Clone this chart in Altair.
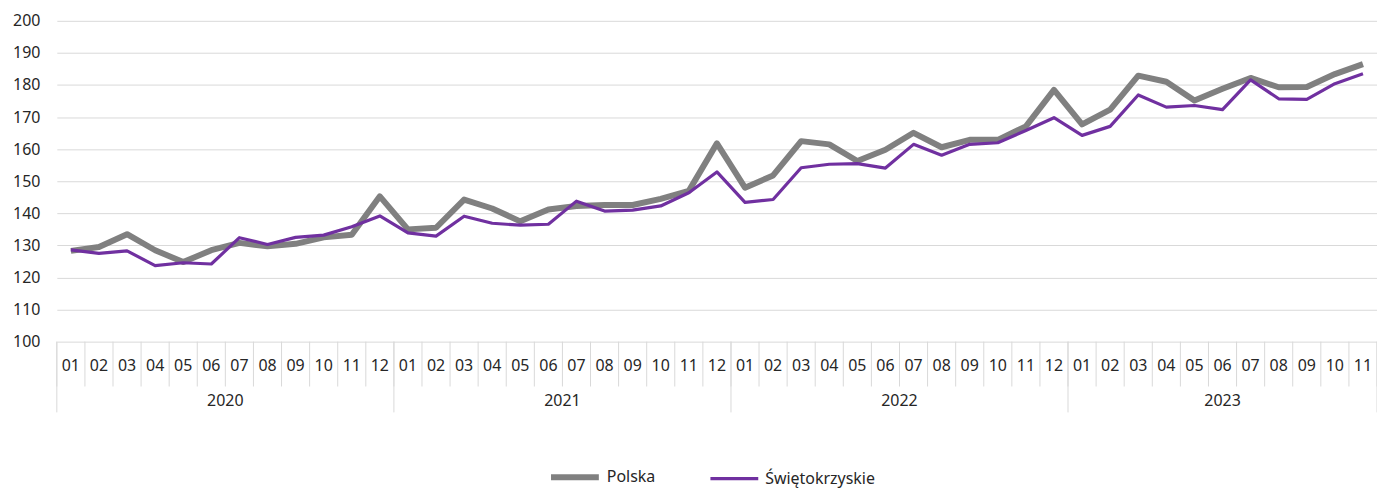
import altair as alt
import pandas as pd

years = ["2020", "2021", "2022", "2023"]
months_per_year = [12, 12, 12, 11]
month_labels = ["01", "02", "03", "04", "05", "06", "07", "08", "09", "10", "11", "12"]

polska = [
    128.3, 129.5, 133.5, 128.5, 124.8, 128.5, 130.8, 129.7, 130.5, 132.5, 133.3, 145.3,
    135.0, 135.5, 144.3, 141.5, 137.5, 141.2, 142.3, 142.6, 142.6, 144.5, 147.0, 161.8,
    148.0, 151.8, 162.5, 161.5, 156.3, 159.8, 165.1, 160.6, 162.9, 162.9, 167.1, 178.5,
    167.7, 172.3, 182.9, 181.0, 175.2, 178.8, 182.2, 179.3, 179.4, 183.4, 186.5,
]
swietokrzyskie = [
    128.6, 127.5, 128.3, 123.7, 124.6, 124.2, 132.4, 130.3, 132.5, 133.2, 135.8, 139.2,
    133.9, 132.9, 139.1, 136.9, 136.3, 136.6, 143.8, 140.7, 141.0, 142.3, 146.4, 152.9,
    143.4, 144.3, 154.2, 155.3, 155.5, 154.1, 161.5, 158.1, 161.5, 162.0, 165.8, 169.8,
    164.3, 167.1, 176.9, 173.1, 173.6, 172.3, 181.6, 175.7, 175.5, 180.4, 183.5,
]
series_names = ["Polska", "Świętokrzyskie"]
series_colors = ["#808080", "#7030A0"]
series_widths = [6, 3.2]

# month table
rows = []
i = 0
for y, n in zip(years, months_per_year):
    for m in range(n):
        rows.append({"pos": i + 0.5, "month": month_labels[m], "year": y})
        i += 1
months_df = pd.DataFrame(rows)
n_total = len(months_df)

line_rows = []
for name, vals in zip(series_names, [polska, swietokrzyskie]):
    for k, v in enumerate(vals):
        line_rows.append({"pos": k + 0.5, "value": v, "series": name,
                          "order": series_names.index(name)})
line_df = pd.DataFrame(line_rows)

# separators
month_sep = pd.DataFrame({"pos": list(range(n_total + 1))})
year_bounds = [0]
for n in months_per_year:
    year_bounds.append(year_bounds[-1] + n)
year_sep = pd.DataFrame({"pos": year_bounds})
year_centers = pd.DataFrame({
    "year": years,
    "pos": [(year_bounds[k] + year_bounds[k + 1]) / 2 for k in range(len(years))],
})

W, H = 1325, 322
FONT = "Noto Sans"
TXT = "#262626"
GRID = "#d9d9d9"

xscale = alt.Scale(domain=[0, n_total], nice=False, zero=False)
yscale = alt.Scale(domain=[100, 200], nice=False, zero=False)

leg = dict(title=None, orient="none", legendX=493, legendY=431,
           direction="horizontal", symbolType="stroke", symbolSize=2304,
           labelFontSize=16, labelFont=FONT, labelColor=TXT, labelOffset=5,
           columnPadding=48)

lines = alt.Chart(line_df).mark_line(strokeJoin="round").encode(
    x=alt.X("pos:Q", scale=xscale, axis=None),
    y=alt.Y("value:Q", scale=yscale,
            axis=alt.Axis(values=list(range(100, 201, 10)), title=None, domain=False,
                          ticks=False, labelFontSize=16, labelColor=TXT, labelFont=FONT,
                          labelPadding=17, gridColor=GRID, gridWidth=1)),
    color=alt.Color("series:N", sort=series_names,
                    scale=alt.Scale(domain=series_names, range=series_colors),
                    legend=alt.Legend(**leg)),
    strokeWidth=alt.StrokeWidth("series:N", sort=series_names,
                                scale=alt.Scale(domain=series_names, range=series_widths),
                                legend=alt.Legend(**leg)),
    order=alt.Order("order:Q"),
)

msep = alt.Chart(month_sep).mark_rule(color=GRID, strokeWidth=1).encode(
    x=alt.X("pos:Q", scale=xscale, axis=None),
    y=alt.value(H), y2=alt.value(H + 45),
)
ysep = alt.Chart(year_sep).mark_rule(color=GRID, strokeWidth=1).encode(
    x=alt.X("pos:Q", scale=xscale, axis=None),
    y=alt.value(H), y2=alt.value(H + 71),
)
mtext = alt.Chart(months_df).mark_text(fontSize=16, font=FONT, color=TXT, baseline="middle").encode(
    x=alt.X("pos:Q", scale=xscale, axis=None),
    y=alt.value(H + 24),
    text="month:N",
)
ytext = alt.Chart(year_centers).mark_text(fontSize=16, font=FONT, color=TXT, baseline="middle").encode(
    x=alt.X("pos:Q", scale=xscale, axis=None),
    y=alt.value(H + 60),
    text="year:N",
)

chart = alt.layer(msep, ysep, lines, mtext, ytext).properties(
    width=W, height=H,
    background="white",
    autosize=alt.AutoSizeParams(type="none"),
    padding={"left": 49, "top": 12, "right": 0, "bottom": 146},
).configure_view(stroke=None)

chart.save("out.html", embed_options={"renderer": "svg", "actions": False})
